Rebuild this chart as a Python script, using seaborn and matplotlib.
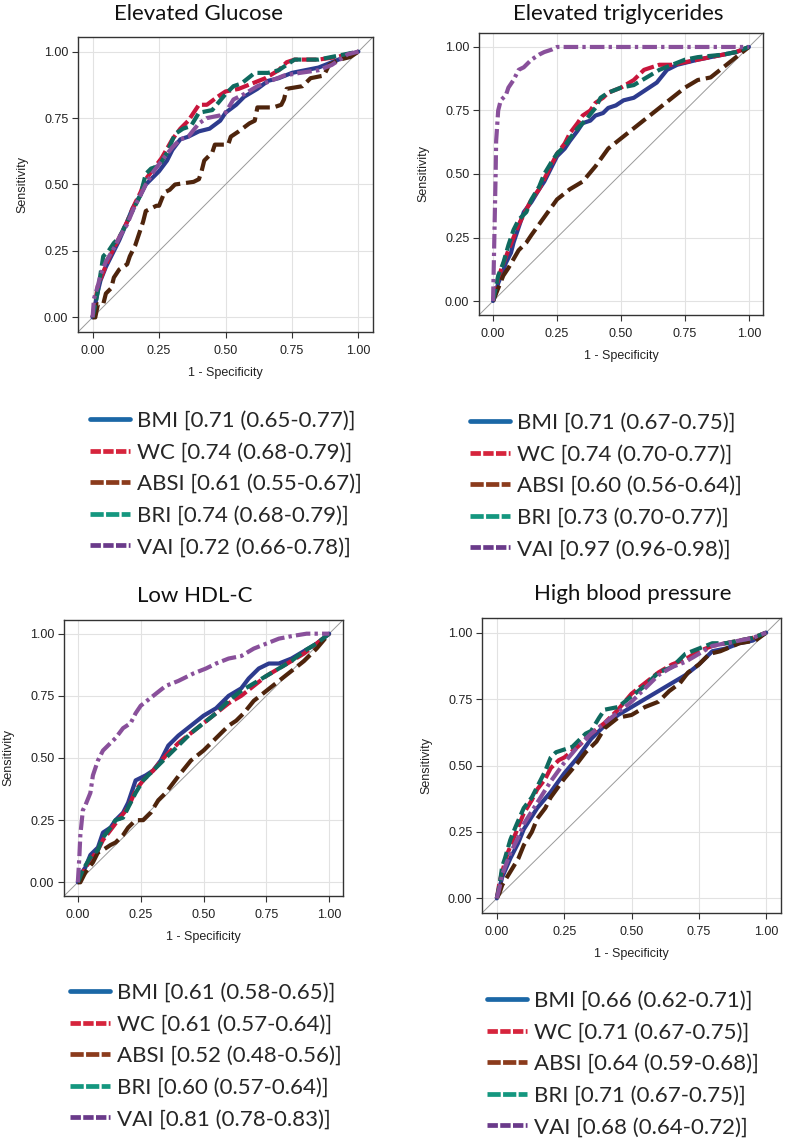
import matplotlib
matplotlib.use("Agg")
import matplotlib.pyplot as plt
from matplotlib.lines import Line2D
import seaborn as sns
import pandas as pd

# ---- data: (1 - specificity, sensitivity) per index ----
indices = ["BMI", "WC", "ABSI", "BRI", "VAI"]

glucose_roc = {
    "BMI": ([0, 0.01, 0.02, 0.03, 0.05, 0.07, 0.10, 0.13, 0.15, 0.18, 0.20, 0.23, 0.25, 0.28, 0.30, 0.33,
             0.36, 0.40, 0.44, 0.48, 0.50, 0.54, 0.57, 0.62, 0.66, 0.70, 0.75, 0.80, 0.85, 0.90, 0.95, 1.0],
            [0, 0.05, 0.10, 0.14, 0.19, 0.23, 0.29, 0.36, 0.41, 0.46, 0.50, 0.53, 0.55, 0.59, 0.63, 0.67,
             0.68, 0.70, 0.71, 0.74, 0.77, 0.80, 0.83, 0.86, 0.89, 0.90, 0.92, 0.93, 0.94, 0.96, 0.98, 1.0]),
    "WC": ([0, 0.01, 0.02, 0.04, 0.06, 0.08, 0.10, 0.13, 0.16, 0.18, 0.20, 0.23, 0.26, 0.30, 0.33, 0.36,
            0.38, 0.40, 0.43, 0.47, 0.50, 0.55, 0.60, 0.65, 0.70, 0.73, 0.76, 0.85, 0.92, 1.0],
           [0, 0.06, 0.12, 0.17, 0.22, 0.26, 0.30, 0.36, 0.43, 0.47, 0.52, 0.56, 0.60, 0.67, 0.71, 0.74,
            0.77, 0.80, 0.80, 0.83, 0.85, 0.86, 0.88, 0.90, 0.93, 0.96, 0.97, 0.97, 0.98, 1.0]),
    "ABSI": ([0, 0.01, 0.02, 0.04, 0.05, 0.07, 0.08, 0.10, 0.13, 0.14, 0.16, 0.17, 0.19, 0.20, 0.24, 0.25,
              0.27, 0.29, 0.31, 0.38, 0.40, 0.41, 0.42, 0.45, 0.46, 0.51, 0.52, 0.55, 0.59, 0.61, 0.62, 0.68,
              0.71, 0.72, 0.73, 0.79, 0.82, 0.87, 0.89, 0.93, 0.97, 1.0],
             [0, 0.0, 0.05, 0.05, 0.09, 0.11, 0.15, 0.18, 0.20, 0.23, 0.27, 0.30, 0.36, 0.40, 0.42, 0.42,
              0.47, 0.48, 0.50, 0.51, 0.52, 0.55, 0.59, 0.62, 0.65, 0.65, 0.68, 0.70, 0.73, 0.74, 0.79, 0.79,
              0.80, 0.82, 0.86, 0.87, 0.90, 0.91, 0.95, 0.97, 0.98, 1.0]),
    "BRI": ([0, 0.01, 0.02, 0.04, 0.06, 0.08, 0.10, 0.13, 0.15, 0.18, 0.20, 0.22, 0.25, 0.28, 0.31, 0.34,
             0.37, 0.40, 0.45, 0.50, 0.53, 0.56, 0.61, 0.66, 0.70, 0.76, 0.85, 0.90, 0.95, 1.0],
            [0, 0.05, 0.10, 0.23, 0.25, 0.28, 0.30, 0.36, 0.40, 0.46, 0.54, 0.56, 0.57, 0.62, 0.69, 0.71,
             0.72, 0.77, 0.78, 0.84, 0.87, 0.88, 0.92, 0.92, 0.93, 0.97, 0.97, 0.98, 0.99, 1.0]),
    "VAI": ([0, 0.005, 0.02, 0.03, 0.05, 0.08, 0.10, 0.13, 0.15, 0.18, 0.20, 0.23, 0.26, 0.30, 0.33, 0.36,
             0.40, 0.43, 0.48, 0.50, 0.53, 0.57, 0.62, 0.67, 0.72, 0.78, 0.85, 0.90, 0.96, 1.0],
            [0, 0.07, 0.12, 0.16, 0.21, 0.26, 0.30, 0.35, 0.40, 0.46, 0.50, 0.55, 0.59, 0.64, 0.67, 0.68,
             0.73, 0.75, 0.76, 0.77, 0.82, 0.84, 0.87, 0.89, 0.91, 0.92, 0.93, 0.95, 0.99, 1.0]),
}

trig_roc = {
    "BMI": ([0, 0.01, 0.02, 0.04, 0.05, 0.07, 0.08, 0.10, 0.12, 0.15, 0.18, 0.20, 0.23, 0.25, 0.28, 0.30,
             0.33, 0.35, 0.38, 0.40, 0.43, 0.45, 0.48, 0.51, 0.55, 0.58, 0.61, 0.64, 0.68, 0.72, 0.76, 0.80,
             0.85, 0.90, 0.95, 1.0],
            [0, 0.03, 0.07, 0.12, 0.15, 0.19, 0.23, 0.29, 0.35, 0.39, 0.44, 0.47, 0.53, 0.57, 0.60, 0.63,
             0.67, 0.70, 0.71, 0.73, 0.74, 0.76, 0.77, 0.79, 0.80, 0.82, 0.84, 0.86, 0.91, 0.93, 0.94, 0.95,
             0.96, 0.97, 0.98, 1.0]),
    "WC": ([0, 0.01, 0.03, 0.06, 0.08, 0.10, 0.13, 0.15, 0.18, 0.20, 0.23, 0.25, 0.28, 0.30, 0.33, 0.35,
            0.38, 0.40, 0.43, 0.45, 0.50, 0.55, 0.59, 0.65, 0.70, 0.75, 0.80, 0.90, 0.95, 1.0],
           [0, 0.05, 0.12, 0.20, 0.25, 0.30, 0.36, 0.40, 0.44, 0.48, 0.54, 0.58, 0.62, 0.66, 0.70, 0.73,
            0.75, 0.78, 0.80, 0.82, 0.84, 0.87, 0.91, 0.93, 0.93, 0.94, 0.95, 0.97, 0.98, 1.0]),
    "ABSI": ([0, 0.02, 0.04, 0.06, 0.10, 0.13, 0.15, 0.20, 0.25, 0.30, 0.35, 0.40, 0.45, 0.50, 0.55, 0.60,
              0.65, 0.70, 0.75, 0.80, 0.85, 0.90, 0.95, 1.0],
             [0, 0.05, 0.10, 0.13, 0.20, 0.23, 0.26, 0.33, 0.40, 0.44, 0.47, 0.53, 0.60, 0.64, 0.68, 0.72,
              0.76, 0.80, 0.84, 0.87, 0.88, 0.92, 0.96, 1.0]),
    "BRI": ([0, 0.01, 0.02, 0.04, 0.06, 0.08, 0.10, 0.13, 0.15, 0.18, 0.20, 0.23, 0.25, 0.28, 0.30, 0.33,
             0.36, 0.40, 0.42, 0.45, 0.50, 0.55, 0.60, 0.65, 0.70, 0.75, 0.80, 0.90, 0.95, 1.0],
            [0, 0.05, 0.10, 0.15, 0.22, 0.28, 0.32, 0.35, 0.40, 0.45, 0.50, 0.55, 0.58, 0.61, 0.64, 0.68,
             0.71, 0.76, 0.80, 0.82, 0.84, 0.85, 0.88, 0.91, 0.93, 0.95, 0.96, 0.97, 0.98, 1.0]),
    "VAI": ([0, 0.003, 0.006, 0.01, 0.012, 0.02, 0.03, 0.05, 0.06, 0.08, 0.10, 0.12, 0.15, 0.18, 0.20,
             0.23, 0.25, 0.30, 0.50, 0.75, 1.0],
            [0, 0.15, 0.30, 0.50, 0.63, 0.75, 0.79, 0.81, 0.84, 0.87, 0.91, 0.92, 0.95, 0.97, 0.98,
             0.99, 1.0, 1.0, 1.0, 1.0, 1.0]),
}

hdl_roc = {
    "BMI": ([0, 0.01, 0.03, 0.05, 0.08, 0.10, 0.13, 0.15, 0.18, 0.20, 0.22, 0.23, 0.27, 0.30, 0.33, 0.36,
             0.40, 0.45, 0.50, 0.55, 0.60, 0.65, 0.68, 0.72, 0.76, 0.80, 0.85, 0.90, 0.95, 1.0],
            [0, 0.03, 0.06, 0.11, 0.14, 0.20, 0.22, 0.25, 0.28, 0.32, 0.38, 0.41, 0.43, 0.45, 0.49, 0.55,
             0.59, 0.63, 0.67, 0.70, 0.75, 0.78, 0.82, 0.86, 0.88, 0.88, 0.90, 0.93, 0.96, 1.0]),
    "WC": ([0, 0.02, 0.05, 0.08, 0.10, 0.13, 0.16, 0.20, 0.23, 0.26, 0.30, 0.35, 0.40, 0.45, 0.50, 0.55,
            0.60, 0.65, 0.70, 0.75, 0.80, 0.85, 0.90, 0.95, 1.0],
           [0, 0.04, 0.09, 0.13, 0.17, 0.21, 0.25, 0.30, 0.37, 0.41, 0.45, 0.51, 0.56, 0.60, 0.64, 0.68,
            0.72, 0.75, 0.79, 0.83, 0.86, 0.89, 0.92, 0.96, 1.0]),
    "ABSI": ([0, 0.01, 0.03, 0.06, 0.08, 0.10, 0.13, 0.15, 0.18, 0.20, 0.23, 0.26, 0.29, 0.32, 0.35, 0.38,
              0.41, 0.45, 0.50, 0.53, 0.57, 0.60, 0.63, 0.66, 0.70, 0.75, 0.80, 0.85, 0.90, 0.95, 1.0],
             [0, 0.0, 0.04, 0.08, 0.12, 0.13, 0.15, 0.16, 0.19, 0.22, 0.25, 0.25, 0.28, 0.33, 0.36, 0.40,
              0.44, 0.49, 0.53, 0.56, 0.60, 0.63, 0.65, 0.68, 0.73, 0.77, 0.81, 0.85, 0.89, 0.94, 1.0]),
    "BRI": ([0, 0.02, 0.05, 0.08, 0.10, 0.13, 0.15, 0.18, 0.20, 0.23, 0.26, 0.30, 0.35, 0.40, 0.45, 0.50,
             0.55, 0.60, 0.65, 0.70, 0.75, 0.80, 0.85, 0.90, 0.95, 1.0],
            [0, 0.05, 0.10, 0.13, 0.18, 0.22, 0.25, 0.26, 0.30, 0.36, 0.41, 0.45, 0.50, 0.55, 0.60, 0.64,
             0.68, 0.73, 0.77, 0.80, 0.83, 0.86, 0.89, 0.93, 0.96, 1.0]),
    "VAI": ([0, 0.003, 0.006, 0.01, 0.02, 0.03, 0.05, 0.06, 0.08, 0.10, 0.13, 0.15, 0.18, 0.21, 0.23, 0.25,
             0.30, 0.35, 0.40, 0.46, 0.51, 0.55, 0.60, 0.65, 0.70, 0.75, 0.80, 0.85, 0.91, 1.0],
            [0, 0.05, 0.10, 0.19, 0.29, 0.31, 0.36, 0.43, 0.49, 0.53, 0.56, 0.58, 0.62, 0.64, 0.68, 0.71,
             0.75, 0.79, 0.81, 0.84, 0.86, 0.88, 0.90, 0.91, 0.94, 0.96, 0.98, 0.99, 1.0, 1.0]),
}

bp_roc = {
    "BMI": ([0, 0.01, 0.02, 0.05, 0.08, 0.10, 0.15, 0.20, 0.25, 0.30, 0.35, 0.40, 0.45, 0.50, 0.55, 0.60,
             0.65, 0.70, 0.75, 0.80, 0.85, 0.90, 0.95, 1.0],
            [0, 0.04, 0.08, 0.15, 0.21, 0.26, 0.34, 0.40, 0.47, 0.53, 0.60, 0.65, 0.69, 0.72, 0.75, 0.78,
             0.81, 0.84, 0.88, 0.93, 0.94, 0.96, 0.97, 1.0]),
    "WC": ([0, 0.01, 0.02, 0.04, 0.06, 0.08, 0.10, 0.13, 0.15, 0.18, 0.20, 0.23, 0.25, 0.30, 0.35, 0.40,
            0.45, 0.50, 0.55, 0.60, 0.65, 0.70, 0.75, 0.80, 0.85, 0.90, 0.95, 1.0],
           [0, 0.06, 0.10, 0.17, 0.22, 0.27, 0.32, 0.37, 0.41, 0.45, 0.49, 0.52, 0.53, 0.57, 0.62, 0.66,
            0.71, 0.77, 0.81, 0.85, 0.88, 0.90, 0.93, 0.95, 0.96, 0.97, 0.98, 1.0]),
    "ABSI": ([0, 0.01, 0.02, 0.05, 0.08, 0.10, 0.13, 0.15, 0.18, 0.20, 0.25, 0.30, 0.33, 0.37, 0.40, 0.45,
              0.50, 0.55, 0.60, 0.64, 0.68, 0.71, 0.75, 0.79, 0.83, 0.90, 0.96, 1.0],
             [0, 0.02, 0.05, 0.10, 0.15, 0.20, 0.25, 0.30, 0.34, 0.38, 0.45, 0.51, 0.55, 0.59, 0.64, 0.68,
              0.69, 0.72, 0.74, 0.78, 0.81, 0.85, 0.88, 0.92, 0.93, 0.96, 0.97, 1.0]),
    "BRI": ([0, 0.01, 0.02, 0.03, 0.05, 0.07, 0.10, 0.13, 0.15, 0.18, 0.20, 0.22, 0.25, 0.28, 0.30, 0.33,
             0.35, 0.38, 0.40, 0.45, 0.50, 0.55, 0.60, 0.65, 0.70, 0.75, 0.80, 0.85, 0.90, 0.95, 1.0],
            [0, 0.05, 0.12, 0.15, 0.22, 0.27, 0.34, 0.38, 0.42, 0.48, 0.53, 0.55, 0.56, 0.57, 0.59, 0.62,
             0.63, 0.68, 0.71, 0.72, 0.76, 0.80, 0.85, 0.87, 0.92, 0.94, 0.96, 0.96, 0.97, 0.98, 1.0]),
    "VAI": ([0, 0.01, 0.02, 0.05, 0.08, 0.10, 0.15, 0.20, 0.25, 0.30, 0.35, 0.40, 0.45, 0.50, 0.55, 0.60,
             0.65, 0.70, 0.75, 0.80, 0.85, 0.90, 0.95, 1.0],
            [0, 0.04, 0.09, 0.17, 0.23, 0.28, 0.36, 0.44, 0.51, 0.57, 0.62, 0.66, 0.70, 0.74, 0.79, 0.84,
             0.87, 0.89, 0.92, 0.95, 0.96, 0.97, 0.98, 1.0]),
}

# AUC (95% CI) shown in the legends
glucose_auc = ["0.71 (0.65-0.77)", "0.74 (0.68-0.79)", "0.61 (0.55-0.67)", "0.74 (0.68-0.79)", "0.72 (0.66-0.78)"]
trig_auc = ["0.71 (0.67-0.75)", "0.74 (0.70-0.77)", "0.60 (0.56-0.64)", "0.73 (0.70-0.77)", "0.97 (0.96-0.98)"]
hdl_auc = ["0.61 (0.58-0.65)", "0.61 (0.57-0.64)", "0.52 (0.48-0.56)", "0.60 (0.57-0.64)", "0.81 (0.78-0.83)"]
bp_auc = ["0.66 (0.62-0.71)", "0.71 (0.67-0.75)", "0.64 (0.59-0.68)", "0.71 (0.67-0.75)", "0.68 (0.64-0.72)"]

titles = ["Elevated Glucose", "Elevated triglycerides", "Low HDL-C", "High blood pressure"]

# ---- styling ----
curve_colors = {"BMI": "#2d3b8e", "WC": "#c8163c", "ABSI": "#4e240c", "BRI": "#0f6a5f", "VAI": "#89509b"}
legend_colors = {"BMI": "#1b67a6", "WC": "#d6243c", "ABSI": "#8b3b1c", "BRI": "#14977f", "VAI": "#6a3a8a"}
curve_dashes = {"BMI": "", "WC": (3.5, 1.0), "ABSI": (4.0, 1.4), "BRI": (3.0, 1.2), "VAI": (3.5, 1.0, 0.8, 1.0)}
legend_dashes = {"BMI": None, "WC": (2.2, 0.5), "ABSI": (2.8, 0.5), "BRI": (2.8, 0.5), "VAI": (2.2, 0.5)}

W, H = 787, 1142
# axes boxes in pixels: left, top, right, bottom
axes_px = [(78, 37, 373, 332), (479, 33, 763, 315), (64, 620, 343, 896), (482, 618, 781, 913)]
title_px = [(199, 14), (618, 14), (195, 596), (633, 594)]
legend_px = [(90, 411), (470, 413), (70, 983), (487, 991)]

sns.set_theme(style="whitegrid")
plt.rcParams["font.family"] = ["Liberation Sans", "DejaVu Sans"]

fig = plt.figure(figsize=(W / 100, H / 100), dpi=100)

panels = [glucose_roc, trig_roc, hdl_roc, bp_roc]
aucs = [glucose_auc, trig_auc, hdl_auc, bp_auc]

for i, roc in enumerate(panels):
    l, t, r, b = axes_px[i]
    ax = fig.add_axes([l / W, 1 - b / H, (r - l) / W, (b - t) / H])

    rows = []
    for name in indices:
        fpr, tpr = roc[name]
        for x, y in zip(fpr, tpr):
            rows.append({"fpr": x, "tpr": y, "index": name})
    df = pd.DataFrame(rows)

    ax.axline((0, 0), (1, 1), color="#9a9a9a", lw=0.7, zorder=1)
    sns.lineplot(data=df, x="fpr", y="tpr", hue="index", style="index",
                 palette=curve_colors, dashes=curve_dashes, sort=False,
                 estimator=None, linewidth=3.0, legend=False, ax=ax, zorder=3)

    ax.set_xlim(-0.055, 1.055)
    ax.set_ylim(-0.055, 1.055)
    ticks = [0, 0.25, 0.5, 0.75, 1.0]
    ax.set_xticks(ticks)
    ax.set_yticks(ticks)
    ax.set_xticklabels([f"{v:.2f}" for v in ticks])
    ax.set_yticklabels([f"{v:.2f}" for v in ticks])
    ax.tick_params(axis="both", which="both", direction="out", length=4.5, width=0.8,
                   color="#333333", labelsize=9, labelcolor="#222222",
                   bottom=True, left=True)
    ax.tick_params(axis="x", pad=5)
    ax.tick_params(axis="y", pad=2.5)
    ax.grid(True, color="#e2e2e2", lw=0.8)
    ax.set_facecolor("white")
    for sp in ax.spines.values():
        sp.set_color("#333333")
        sp.set_linewidth(1.0)
    ax.set_xlabel("1 - Specificity", fontsize=9, color="#222222", labelpad=7)
    ax.set_ylabel("Sensitivity", fontsize=9, color="#222222", labelpad=11)

    tx, ty = title_px[i]
    fig.text(tx / W, 1 - ty / H, titles[i], ha="center", va="center",
             fontsize=16, family=["Lato", "DejaVu Sans"], color="#111111")

    handles = []
    labels = []
    for name, auc in zip(indices, aucs[i]):
        h = Line2D([], [], color=legend_colors[name], lw=3.4)
        if legend_dashes[name] is not None:
            h.set_dashes(legend_dashes[name])
        handles.append(h)
        labels.append(f"{name} [{auc}]")
    lx, ly = legend_px[i]
    fig.legend(handles, labels, loc="upper left", bbox_to_anchor=(lx / W, 1 - ly / H),
               frameon=False, borderpad=0, borderaxespad=0, handlelength=1.8,
               handletextpad=0.3, labelspacing=0.52,
               prop={"family": ["Lato", "DejaVu Sans"], "size": 16})

fig.savefig("out.png", dpi=100, facecolor="white")
